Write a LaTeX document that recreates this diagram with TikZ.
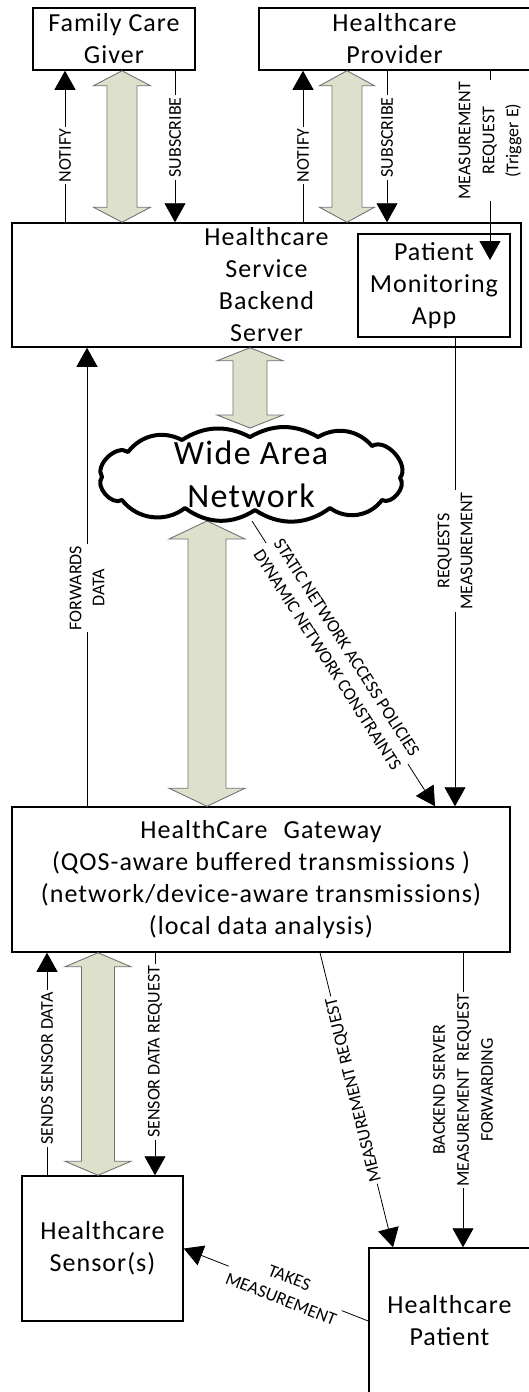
\documentclass[tikz,border=0pt]{standalone}
\usepackage{fontspec}
\setmainfont{Carlito}
\newfontfamily\boxfam[LetterSpace=4]{Carlito}
\usetikzlibrary{arrows.meta,calc}
\definecolor{fatfill}{RGB}{221,225,204}
\definecolor{fatdraw}{RGB}{115,115,115}
\tikzset{
  boxnode/.style={draw, line width=1.5pt, align=center, inner sep=0pt,
    font=\boxfam\fontsize{26}{32}\selectfont},
  conn/.style={line width=0.8pt, -{Triangle[length=19pt,width=21pt]}},
  lbl/.style={fill=white, inner xsep=2pt, inner ysep=0pt, align=center,
    font=\fontsize{18}{23}\selectfont},
  fatarr/.style={fill=fatfill, draw=fatdraw, line width=0.9pt, line join=miter},
  cloudline/.style={draw=black, fill=white, line width=4pt, line join=round},
}
% #1 x centre, #2 upper point, #3 lower point, #4 half shaft, #5 half head, #6 head length
\newcommand\fatdbl[6]{%
  \path[fatarr] let \p1=(#2), \p2=(#3) in
    ({#1pt},{\y1}) -- ({#1pt+#5pt},{\y1-#6pt}) -- ({#1pt+#4pt},{\y1-#6pt})
    -- ({#1pt+#4pt},{\y2+#6pt}) -- ({#1pt+#5pt},{\y2+#6pt}) -- ({#1pt},{\y2})
    -- ({#1pt-#5pt},{\y2+#6pt}) -- ({#1pt-#4pt},{\y2+#6pt})
    -- ({#1pt-#4pt},{\y1-#6pt}) -- ({#1pt-#5pt},{\y1-#6pt}) -- cycle;}
\begin{document}
\begin{tikzpicture}[x=1pt,y=-1pt]
\useasboundingbox (0,0) rectangle (528,1392);
\fill[white] (0,0) rectangle (528,1392);

% boxes
\node[boxnode, minimum width=162pt, minimum height=62pt] (fcg) at (114,39) {Family Care\\Giver};
\node[boxnode, minimum width=271pt, minimum height=62pt] (prov) at (394.5,39) {Healthcare\\Provider};
\node[boxnode, minimum width=509pt, minimum height=124pt] (backend) at (266.5,285) {Healthcare\\Service\\Backend\\Server};
\node[boxnode, minimum width=152pt, minimum height=103pt] (app) at (434,285.5) {Patient\\Monitoring\\App};
\node[boxnode, minimum width=498pt, minimum height=145pt] (gw) at (261,879.5)
  {HealthCare\hspace{16pt}Gateway\\(QOS-aware buffered transmissions )\\(network/device-aware transmissions)\\(local data analysis)};
\node[boxnode, minimum width=161pt, minimum height=145pt] (sensor) at (102.5,1248.5) {Healthcare\\Sensor(s)};
\node[boxnode, minimum width=161pt, minimum height=146pt] (patient) at (449.5,1321) {Healthcare\\Patient};

% cloud reference points
\coordinate (wantop) at (250,428);
\coordinate (wanbot) at (252,521);

% fat double arrows
\fatdbl{122}{fcg.south}{backend.north}{15}{28.5}{15}
\fatdbl{347}{prov.south}{backend.north}{15}{27.5}{15}
\fatdbl{250}{backend.south}{wantop}{17}{33}{13}
\fatdbl{207}{wanbot}{gw.north}{19}{38}{18}
\fatdbl{98}{gw.south}{sensor.north}{16.5}{33}{14}

% cloud outline
\path[cloudline] (400,478) to[bend right=80] (372,446) to[bend right=40] (318,437)
  to[bend right=30] (250,437) to[bend right=30] (182,440) to[bend right=40] (128,452)
  to[bend right=80] (102,477) to[bend right=80] (122,500) to[bend right=45] (185,508)
  to[bend right=35] (255,510) to[bend right=35] (330,508) to[bend right=45] (382,500)
  to[bend right=80] (400,478) -- cycle;
\node[align=center, font=\boxfam\fontsize{34}{43}\selectfont] (wan) at (251,474) {Wide Area\\Network};

% connectors, top
\draw[conn] (backend.north -| 65,0) -- node[lbl, rotate=90, pos=0.44] {NOTIFY} (fcg.south -| 65,0);
\draw[conn] (fcg.south -| 175,0) -- node[lbl, rotate=90, pos=0.44] {SUBSCRIBE} (backend.north -| 175,0);
\draw[conn] (backend.north -| 303,0) -- node[lbl, rotate=90, pos=0.44] {NOTIFY} (prov.south -| 303,0);
\draw[conn] (prov.south -| 387,0) -- node[lbl, rotate=90, pos=0.44] {SUBSCRIBE} (backend.north -| 387,0);
\coordinate (trigE) at (490,260);
\draw[conn] (prov.south -| 490,0) -- node[lbl, rotate=90, pos=0.37, font=\fontsize{18}{24}\selectfont] {MEASUREMENT\\REQUEST\\(Trigger E)} (trigE);

% middle
\draw[conn] (gw.north -| 87,0) -- node[lbl, rotate=90, pos=0.476] {FORWARDS\\DATA} (backend.south -| 87,0);
\draw[conn] (app.south -| 455,0) -- node[lbl, rotate=90, pos=0.455] {REQUESTS\\MEASUREMENT} (gw.north -| 455,0);
\draw[conn] (wanbot) -- node[lbl, sloped, pos=0.465] {STATIC NETWORK ACCESS POLICIES\\DYNAMIC NETWORK CONSTRAINTS} (gw.north -| 435,0);

% bottom
\draw[conn] (sensor.north -| 47,0) -- node[lbl, rotate=90, pos=0.48] {SENDS SENSOR DATA} (gw.south -| 47,0);
\draw[conn] (gw.south -| 155,0) -- node[lbl, rotate=90, pos=0.446] {SENSOR DATA REQUEST} (sensor.north -| 155,0);
\draw[conn] (gw.south -| 320,0) -- node[lbl, rotate=103.85, pos=0.466] {MEASUREMENT REQUEST} (patient.north -| 393,0);
\draw[conn] (gw.south -| 463,0) -- node[lbl, rotate=90, pos=0.466, font=\fontsize{18}{24}\selectfont] {BACKEND SERVER\\MEASUREMENT\ \ REQUEST\\FORWARDING} (patient.north -| 463,0);
\draw[conn] (patient.west) -- node[lbl, sloped, pos=0.45] {TAKES\\MEASUREMENT} (sensor.east);
\end{tikzpicture}
\end{document}
